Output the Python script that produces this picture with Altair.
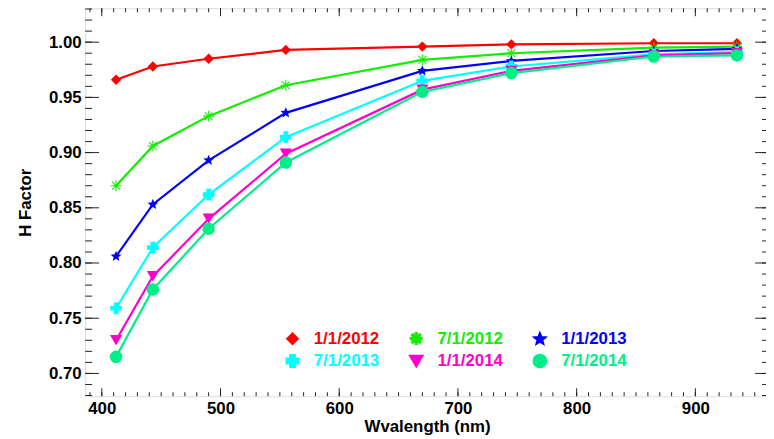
import altair as alt
import pandas as pd

# ---- data ----
wavelength = [412, 443, 490, 555, 670, 745, 865, 935]
series_names = ["1/1/2012", "7/1/2012", "1/1/2013", "7/1/2013", "1/1/2014", "7/1/2014"]
h_2012_01 = [0.966, 0.978, 0.985, 0.993, 0.996, 0.998, 0.999, 0.999]
h_2012_07 = [0.870, 0.906, 0.933, 0.961, 0.984, 0.990, 0.995, 0.996]
h_2013_01 = [0.806, 0.853, 0.893, 0.936, 0.974, 0.983, 0.992, 0.994]
h_2013_07 = [0.759, 0.814, 0.862, 0.914, 0.965, 0.978, 0.989, 0.991]
h_2014_01 = [0.730, 0.788, 0.840, 0.899, 0.957, 0.974, 0.988, 0.990]
h_2014_07 = [0.715, 0.776, 0.831, 0.891, 0.955, 0.972, 0.987, 0.988]

x_major = [400, 500, 600, 700, 800, 900]
x_minor = [390 + 10 * i for i in range(58)]
y_major = [0.70, 0.75, 0.80, 0.85, 0.90, 0.95, 1.00]
y_minor = [round(0.68 + 0.01 * i, 2) for i in range(36)]

colors = ["#ff0000", "#11ee00", "#0000ff", "#00ffff", "#ff00cc", "#00ee88"]
line_widths = [2.2, 2.2, 3, 3, 3, 3]

asterisk = ("M-1,-0.1L1,-0.1L1,0.1L-1,0.1Z "
            "M-0.1,-1L0.1,-1L0.1,1L-0.1,1Z "
            "M-0.64,-0.78L0.78,0.64L0.64,0.78L-0.78,-0.64Z "
            "M-0.64,0.78L-0.78,0.64L0.64,-0.78L0.78,-0.64Z")
star = ("M0,-1L0.26,-0.36L0.951,-0.309L0.42,0.137L0.588,0.809L0,0.44"
        "L-0.588,0.809L-0.42,0.137L-0.951,-0.309L-0.26,-0.36Z")
shapes = ["diamond", asterisk, star, "cross", "triangle-down", "circle"]
shape_sizes = [110, 160, 180, 140, 140, 120]

all_series = [h_2012_01, h_2012_07, h_2013_01, h_2013_07, h_2014_01, h_2014_07]
rows = []
for name, vals in zip(series_names, all_series):
    for w, v in zip(wavelength, vals):
        rows.append({"series": name, "wl": w, "h": v})
df = pd.DataFrame(rows)

W, H = 691, 392
FONT = "Liberation Sans"
FS = 17

xscale = alt.Scale(domain=[386, 962], nice=False, zero=False)
yscale = alt.Scale(domain=[0.6794, 1.0307], nice=False, zero=False)

xaxis = alt.Axis(values=x_major, tickSize=0, domain=False, grid=False,
                 labelFont=FONT, labelFontSize=FS, labelFontWeight="bold",
                 labelColor="#000", labelPadding=5, labelFlush=False,
                 title="Wvalength (nm)", titleFont=FONT, titleFontSize=FS,
                 titleFontWeight="bold", titleColor="#000",
                 titleBaseline="alphabetic", titleY=36)
yaxis = alt.Axis(values=y_major, tickSize=0, domain=False, grid=False, format=".2f",
                 labelFont=FONT, labelFontSize=FS, labelFontWeight="bold",
                 labelColor="#000", labelPadding=4, labelFlush=False,
                 title="H Factor", titleFont=FONT, titleFontSize=FS,
                 titleFontWeight="bold", titleColor="#000",
                 titleAngle=270, titleAlign="center", titleBaseline="middle",
                 titleX=-60, titleY=H / 2)

X = alt.X("wl:Q", scale=xscale, axis=xaxis)
Y = alt.Y("h:Q", scale=yscale, axis=yaxis)
color_scale = alt.Scale(domain=series_names, range=colors)

legend = alt.Legend(
    title=None, orient="none", legendX=201, legendY=325, columns=3,
    direction="horizontal",
    labelFont=FONT, labelFontSize=FS, labelFontWeight="bold",
    labelColor=alt.ExprRef("scale('color', datum.value)"),
    labelOffset=13, columnPadding=25, rowPadding=1, symbolSize=90,
    symbolStrokeWidth=0,
)

lines = alt.Chart(df).mark_line().encode(
    x=X, y=Y,
    color=alt.Color("series:N", scale=color_scale, legend=legend),
    strokeWidth=alt.StrokeWidth("series:N", scale=alt.Scale(domain=series_names, range=line_widths), legend=None),
    detail="series:N",
)

points = alt.Chart(df).mark_point(filled=True, opacity=1).encode(
    x=X, y=Y,
    color=alt.Color("series:N", scale=color_scale, legend=legend),
    shape=alt.Shape("series:N", scale=alt.Scale(domain=series_names, range=shapes), legend=legend),
    size=alt.Size("series:N", scale=alt.Scale(domain=series_names, range=shape_sizes), legend=None),
)

TICK = "#222222"
def ticks_y(vals, x0, x1):
    return alt.Chart(pd.DataFrame({"h": vals})).mark_rule(color=TICK, strokeWidth=1).encode(
        y=Y, x=alt.value(x0), x2=alt.value(x1))

def ticks_x(vals, y0, y1):
    return alt.Chart(pd.DataFrame({"wl": vals})).mark_rule(color=TICK, strokeWidth=1).encode(
        x=X, y=alt.value(y0), y2=alt.value(y1))

tick_layers = [
    ticks_y(y_major, 0, 14), ticks_y(y_minor, 0, 7),
    ticks_y(y_major, W, W - 14), ticks_y(y_minor, W, W - 7),
    ticks_x(x_major, H, H - 8), ticks_x(x_minor, H, H - 4),
    ticks_x(x_major, 0, 8), ticks_x(x_minor, 0, 4),
]

chart = alt.layer(*tick_layers, lines, points).properties(
    width=W, height=H,
    autosize=alt.AutoSizeParams(type="none"),
    padding={"left": 78, "top": -2, "right": -3, "bottom": 41},
).configure_view(stroke="#222222", strokeWidth=1).configure(background="white")

chart.save("out.html", embed_options={"renderer": "svg", "actions": False})
